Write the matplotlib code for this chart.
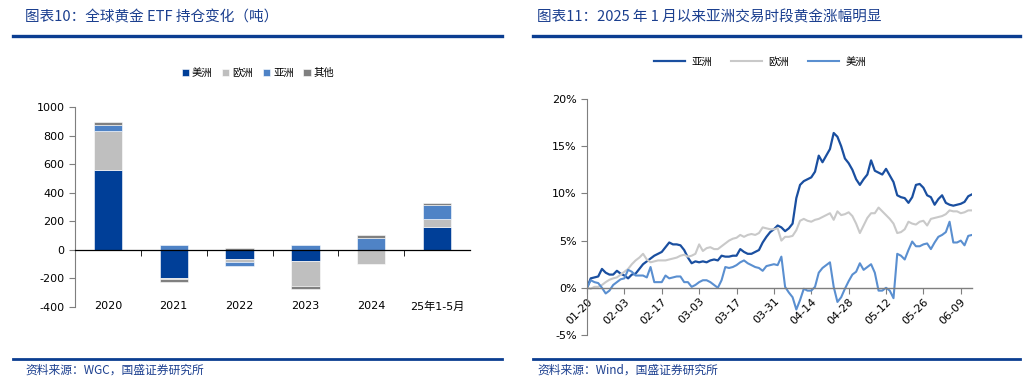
import numpy as np
import pandas as pd
import matplotlib
matplotlib.use("Agg")
from matplotlib import pyplot as plt
from matplotlib.lines import Line2D

plt.rcParams['font.family'] = ['DejaVu Sans', 'Noto Sans CJK SC']
plt.rcParams['axes.unicode_minus'] = False

# ---- left chart: global gold ETF holdings change (tonnes)
years = ['2020', '2021', '2022', '2023', '2024', '25年1-5月']
america = [558, -198, -65, -79, 0, 158]
europe = [277, -4, -18, -177, -100, 56]
asia = [37, 35, -28, 33, 81, 98]
other = [26, -20, 14, -19, 21, 19]

# ---- right chart: gold return by trading session since 2025-01-20 (%)
dates = pd.bdate_range('2025-01-20', '2025-06-12')
asia_ret = [0.0, 1.0, 1.1, 1.2, 2.0, 1.6, 1.4, 1.4, 1.8, 1.5,
            1.3, 1.0, 1.4, 1.5, 2.0, 2.5, 2.8, 3.1, 3.4, 3.6,
            3.8, 4.3, 4.8, 4.6, 4.6, 4.5, 4.0, 3.2, 2.6, 2.8,
            2.7, 2.8, 2.7, 2.9, 3.0, 2.9, 3.4, 3.3, 3.3, 3.4,
            3.4, 4.1, 3.8, 3.6, 3.6, 3.8, 4.0, 4.8, 5.4, 5.9,
            6.2, 6.6, 6.4, 6.0, 6.3, 6.8, 9.5, 10.9, 11.3, 11.5,
            11.7, 12.3, 14.0, 13.3, 14.0, 14.7, 16.4, 16.0, 15.0, 13.7,
            13.2, 12.5, 11.5, 10.9, 11.5, 12.0, 13.5, 12.4, 12.2, 12.0,
            12.6, 11.9, 11.2, 9.8, 9.6, 9.5, 9.0, 9.6, 10.9, 11.0,
            10.6, 9.8, 9.6, 8.8, 9.4, 9.8, 9.0, 8.8, 8.7, 8.8,
            8.9, 9.1, 9.7, 9.9]
europe_ret = [0.0, -0.1, 0.1, 0.1, 0.3, 0.6, 0.85, 1.0, 1.1, 1.4,
              1.7, 2.0, 2.5, 2.9, 3.2, 3.6, 3.0, 2.7, 2.8, 2.9,
              2.9, 2.9, 3.0, 3.1, 3.2, 3.4, 3.5, 3.3, 3.4, 3.6,
              4.6, 3.9, 4.2, 4.3, 4.1, 4.1, 4.4, 4.7, 5.0, 5.2,
              5.3, 5.6, 5.4, 5.6, 5.7, 5.6, 5.8, 6.4, 6.3, 6.2,
              6.2, 6.3, 5.0, 5.4, 5.4, 5.5, 6.1, 7.1, 7.3, 7.1,
              7.0, 7.2, 7.3, 7.5, 7.7, 7.9, 7.2, 8.1, 7.7, 7.8,
              8.0, 7.6, 6.8, 5.8, 6.6, 7.4, 7.9, 7.9, 8.5, 8.1,
              7.7, 7.3, 6.8, 5.8, 5.9, 6.2, 7.0, 6.8, 6.7, 7.0,
              7.1, 6.6, 7.3, 7.4, 7.5, 7.6, 7.8, 8.2, 8.1, 8.1,
              7.9, 8.0, 8.2, 8.2]
america_ret = [0.0, 0.8, 0.6, 0.5, 0.0, -0.6, -0.3, 0.3, 0.6, 0.9,
               1.0, 1.9, 1.7, 1.3, 1.3, 1.3, 1.1, 2.2, 0.6, 0.6,
               0.6, 1.3, 1.0, 1.1, 1.2, 1.2, 0.6, 0.6, 0.1, 0.3,
               0.6, 0.8, 0.8, 0.6, 0.3, 0.0, 0.8, 2.2, 2.1, 2.2,
               2.4, 2.7, 2.9, 2.6, 2.4, 2.2, 2.1, 1.8, 2.3, 2.4,
               2.5, 2.4, 3.3, 0.1, -0.5, -1.0, -2.3, -1.3, -0.1, -0.3,
               -0.3, 0.1, 1.6, 2.1, 2.4, 2.7, 0.1, -1.5, -1.0, -0.1,
               0.7, 1.4, 1.7, 2.6, 1.9, 2.2, 2.5, 1.6, -0.3, -0.3,
               0.0, -0.3, -1.1, 3.6, 3.4, 3.0, 4.0, 4.9, 4.4, 4.4,
               4.6, 4.7, 4.1, 4.8, 5.4, 5.6, 5.9, 7.0, 4.8, 4.8,
               5.0, 4.5, 5.5, 5.6]

navy = '#1B3F8F'
c_am, c_eu, c_as, c_ot = '#003F98', '#BFBFBF', '#4F83C6', '#808080'
c_asia_l, c_eu_l, c_am_l = '#1A4FA0', '#C9C9C9', '#5A8FD0'

fig = plt.figure(figsize=(10.24, 3.86), dpi=100)

# header / footer decorations
fig.text(25 / 1024, 1 - 17 / 386, '图表10：全球黄金 ETF 持仓变化（吨）', color=navy,
         fontsize=10.5, style='italic', va='center', family=['Noto Sans CJK SC'])
fig.text(537 / 1024, 1 - 17 / 386, '图表11：2025 年 1 月以来亚洲交易时段黄金涨幅明显', color=navy,
         fontsize=10.5, style='italic', va='center', family=['Noto Sans CJK SC'])
fig.text(25 / 1024, 1 - 370 / 386, '资料来源：WGC，国盛证券研究所', color=navy,
         fontsize=8.5, style='italic', va='center', family=['Noto Sans CJK SC'])
fig.text(537 / 1024, 1 - 370 / 386, '资料来源：Wind，国盛证券研究所', color=navy,
         fontsize=8.5, style='italic', va='center', family=['Noto Sans CJK SC'])
for x0, x1 in [(13, 502), (533, 1020)]:
    fig.add_artist(Line2D([x0 / 1024, x1 / 1024], [1 - 35.5 / 386] * 2, color='#0B3D91', lw=2.4))
    fig.add_artist(Line2D([x0 / 1024, x1 / 1024], [1 - 359 / 386] * 2, color='#0B3D91', lw=2.0))

# ---- left: stacked bars
ax1 = fig.add_axes([75 / 1024, 1 - 307 / 386, 395 / 1024, 200 / 386])
x = np.arange(len(years))
pos_bottom = np.zeros(len(years))
neg_bottom = np.zeros(len(years))
for vals, col, lab in [(america, c_am, '美洲'), (europe, c_eu, '欧洲'),
                       (asia, c_as, '亚洲'), (other, c_ot, '其他')]:
    v = np.array(vals, dtype=float)
    bottom = np.where(v >= 0, pos_bottom, neg_bottom)
    ax1.bar(x, v, 0.43, bottom=bottom, color=col, label=lab, edgecolor='white', linewidth=0.4)
    pos_bottom += np.where(v >= 0, v, 0)
    neg_bottom += np.where(v < 0, v, 0)

ax1.set_xlim(-0.5, len(years) - 0.5)
ax1.set_ylim(-400, 1000)
ax1.set_yticks(np.arange(-400, 1001, 200))
ax1.spines['top'].set_visible(False)
ax1.spines['right'].set_visible(False)
ax1.spines['left'].set_color('#7F7F7F')
ax1.spines['bottom'].set_position(('data', 0))
ax1.spines['bottom'].set_color('black')
ax1.spines['bottom'].set_linewidth(0.9)
ax1.set_xticks(x)
ax1.set_xticklabels(years)
ax1.set_xticks(x[1:] - 0.5, minor=True)
ax1.tick_params(axis='x', which='major', length=0, pad=37, labelsize=8)
ax1.tick_params(axis='x', which='minor', length=4, direction='out', color='black')
ax1.tick_params(axis='y', length=4, color='#7F7F7F', labelsize=8)
fig.legend(*ax1.get_legend_handles_labels(), loc='center', ncol=4,
           bbox_to_anchor=(258 / 1024, 1 - 73 / 386), frameon=False,
           handlelength=0.7, handleheight=0.7, handletextpad=0.3, columnspacing=0.9,
           prop={'family': ['Noto Sans CJK SC'], 'size': 7.5})

# ---- right: lines
ax2 = fig.add_axes([587 / 1024, 1 - 335 / 386, 385 / 1024, 236 / 386])
idx = np.arange(len(dates))
ax2.plot(idx, asia_ret, color=c_asia_l, lw=1.6, label='亚洲')
ax2.plot(idx, europe_ret, color=c_eu_l, lw=1.5, label='欧洲')
ax2.plot(idx, america_ret, color=c_am_l, lw=1.5, label='美洲')
ax2.set_xlim(0, len(dates) - 1)
ax2.set_ylim(-5, 20)
ax2.set_yticks(np.arange(-5, 21, 5))
ax2.set_yticklabels([f'{v}%' for v in range(-5, 21, 5)])
ax2.set_xticks(idx[::10])
ax2.set_xticklabels(list(dates[::10].strftime('%m-%d')))
ax2.spines['top'].set_visible(False)
ax2.spines['right'].set_visible(False)
ax2.spines['left'].set_color('#7F7F7F')
ax2.spines['bottom'].set_position(('data', 0))
ax2.spines['bottom'].set_color('#7F7F7F')
ax2.spines['bottom'].set_linewidth(1.0)
ax2.tick_params(axis='x', length=4, color='#7F7F7F', labelsize=8, pad=2)
ax2.tick_params(axis='y', length=4, color='#7F7F7F', labelsize=8)
for lbl in ax2.get_xticklabels():
    lbl.set_rotation(45)
    lbl.set_ha('right')
    lbl.set_rotation_mode('anchor')
fig.legend(*ax2.get_legend_handles_labels(), loc='center', ncol=3,
           bbox_to_anchor=(760 / 1024, 1 - 62 / 386), frameon=False,
           handlelength=3.0, handletextpad=0.6, columnspacing=1.8,
           prop={'family': ['Noto Sans CJK SC'], 'size': 7.5})

fig.savefig('out.png', dpi=100)
